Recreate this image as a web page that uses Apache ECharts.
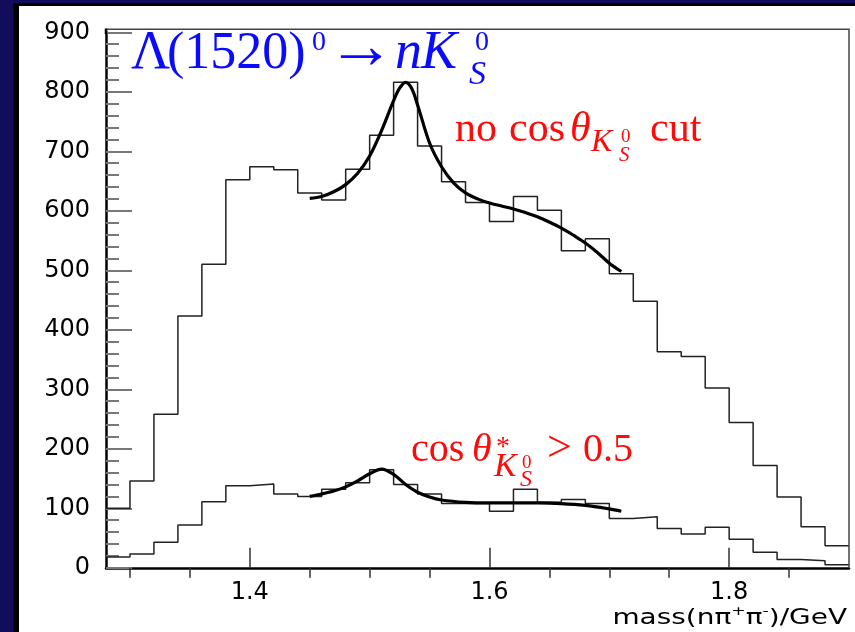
<!DOCTYPE html>
<html>
<head>
<meta charset="utf-8">
<title>Λ(1520)⁰ → nK⁰S mass spectrum</title>
<script src="https://cdn.jsdelivr.net/npm/echarts@6/dist/echarts.min.js"></script>
<style>
  html, body { margin: 0; padding: 0; background: #110d5c; }
  #chart { width: 855px; height: 632px; }
</style>
</head>
<body>
<div id="chart"></div>
<script>
// Bin edges of the n pi+ pi- invariant mass histograms (GeV), 0.02 GeV bins
const binEdges = [1.28, 1.30, 1.32, 1.34, 1.36, 1.38, 1.40, 1.42, 1.44, 1.46, 1.48,
                  1.50, 1.52, 1.54, 1.56, 1.58, 1.60, 1.62, 1.64, 1.66, 1.68, 1.70,
                  1.72, 1.74, 1.76, 1.78, 1.80, 1.82, 1.84, 1.86, 1.88, 1.90];

// Entries per bin without any cos(theta) cut
const countsNoCut = [100, 146, 258, 423, 510, 652, 674, 669, 630, 618, 670,
                     727, 816, 709, 649, 614, 582, 624, 601, 533, 553, 494,
                     448, 363, 355, 302, 244, 172, 119, 69, 37];

// Entries per bin with cos(theta*) > 0.5
const countsCut = [18, 23, 43, 72, 111, 138, 141, 124, 120, 132, 143,
                   165, 140, 124, 108, 108, 95, 132, 110, 115, 108, 83,
                   86, 66, 57, 68, 48, 26, 14, 12, 5];

// Fitted curve (signal + background), no cut
const fitNoCutX = [1.45, 1.46, 1.47, 1.48, 1.49, 1.50, 1.51, 1.52, 1.525, 1.53, 1.535,
                   1.54, 1.55, 1.56, 1.57, 1.58, 1.59, 1.60, 1.61, 1.62, 1.63, 1.64,
                   1.65, 1.66, 1.67, 1.68, 1.69, 1.70, 1.71];
const fitNoCutY = [621, 624, 632, 644, 663, 692, 735, 785, 806, 816, 806,
                   778, 714, 674, 647, 630, 620, 613, 608, 603, 597, 590,
                   581, 571, 559, 546, 530, 512, 498];

// Fitted curve, cos(theta*) > 0.5
const fitCutX = [1.45, 1.46, 1.47, 1.48, 1.49, 1.50, 1.51, 1.52, 1.53, 1.54, 1.55,
                 1.56, 1.58, 1.60, 1.62, 1.64, 1.66, 1.68, 1.70, 1.71];
const fitCutY = [120, 124, 129, 136, 146, 158, 166, 157, 140, 127, 119,
                 114, 110, 109, 109, 109, 108, 105, 99, 95];

// Axis ticks
const xMajorTicks = [1.4, 1.6, 1.8];
const xMinorTicks = [1.3, 1.35, 1.45, 1.5, 1.55, 1.65, 1.7, 1.75, 1.85];

function histData(counts) {
  const d = counts.map((c, i) => [binEdges[i], c]);
  d.push([binEdges[binEdges.length - 1], counts[counts.length - 1]]);
  return d;
}
function curveData(xs, ys) {
  return xs.map((x, i) => [x, ys[i]]);
}

const SERIF = '"Liberation Serif", "DejaVu Serif", serif';
const SANS = '"DejaVu Sans", "Liberation Sans", sans-serif';

// text piece placed by its left edge and alphabetic baseline
function piece(str, left, baseline, size, color, italic) {
  return {
    type: 'text',
    x: left,
    y: baseline - 0.34 * size,
    z: 100,
    style: {
      text: str,
      fontSize: size,
      fontFamily: SERIF,
      fontStyle: italic ? 'italic' : 'normal',
      fill: color,
      align: 'left',
      verticalAlign: 'middle'
    }
  };
}

const BLUE = '#0a0aff';
const RED = '#ff0a0a';

const labels = [
  // Λ(1520)^0 → n K_S^0
  piece('Λ', 131, 72, 54, BLUE, false),
  piece('(1520)', 167, 72, 52, BLUE, false),
  piece('0', 312, 52, 28, BLUE, false),
  piece('→', 327, 73, 68, BLUE, false),
  piece('n', 395, 72, 54, BLUE, true),
  piece('K', 421, 72, 54, BLUE, true),
  piece('0', 475, 52, 28, BLUE, false),
  piece('S', 469, 87, 34, BLUE, true),

  // no cos θ_{K_S^0} cut
  piece('no', 455, 144, 42, RED, false),
  piece('cos', 509, 144, 42, RED, false),
  piece('θ', 570, 144, 42, RED, true),
  piece('K', 591, 153, 32, RED, true),
  piece('0', 621, 143, 19, RED, false),
  piece('S', 619, 163, 21, RED, true),
  piece('cut', 650, 144, 42, RED, false),

  // cos θ*_{K_S^0} > 0.5
  piece('cos', 411, 464, 40, RED, false),
  piece('θ', 472, 464, 40, RED, true),
  piece('*', 496, 457, 28, RED, false),
  piece('K', 494, 479, 34, RED, true),
  piece('0', 522, 469, 19, RED, false),
  piece('S', 520, 488, 24, RED, true),
  piece('>', 547, 464, 44, RED, false),
  piece('0.5', 583, 464, 40, RED, false),

  // x axis title
  {
    type: 'text',
    x: 847,
    y: 617,
    z: 100,
    scaleX: 1.33,
    style: {
      text: '{a|mass(nπ}{s|+}{a|π}{s|-}{a|)/GeV}',
      align: 'right',
      verticalAlign: 'middle',
      fill: '#000',
      rich: {
        a: { fontSize: 21, fontFamily: SANS, fill: '#000', verticalAlign: 'bottom' },
        s: { fontSize: 13, fontFamily: SANS, fill: '#000', verticalAlign: 'top',
             padding: [0, 0, 11, 0] }
      }
    }
  }
];

// frame of the plotting area above the top y tick and on the right
const frame = [
  { type: 'polyline', z: 50, shape: { points: [[106, 29.3], [849, 29.3], [849, 568]] },
    style: { stroke: '#444', lineWidth: 1.5, fill: null } },
  { type: 'line', z: 50, shape: { x1: 106, y1: 28.5, x2: 106, y2: 34 },
    style: { stroke: '#000', lineWidth: 2.5 } }
];

const chart = echarts.init(document.getElementById('chart'), null, { renderer: 'canvas' });

const option = {
  animation: false,
  backgroundColor: '#110d5c',
  graphic: [
    { type: 'rect', z: -10, shape: { x: 13.5, y: 3, width: 900, height: 700 }, style: { fill: '#000' } },
    { type: 'rect', z: -9, shape: { x: 19, y: 6, width: 900, height: 700 }, style: { fill: '#fff' } }
  ].concat(frame, labels),
  grid: {
    left: 106, right: 6, top: 32.3, bottom: 64.2, show: false
  },
  xAxis: [
    {
      type: 'value', min: 1.28, max: 1.9,
      axisLine: { show: true, onZero: false, lineStyle: { color: '#000', width: 2.5 } },
      axisTick: { show: true, inside: true, length: 20, customValues: xMajorTicks,
                  lineStyle: { color: '#333', width: 1.5 } },
      axisLabel: { show: true, customValues: xMajorTicks, margin: 13,
                   fontSize: 24, fontFamily: SANS, color: '#000',
                   formatter: v => v.toFixed(1) },
      splitLine: { show: false }
    },
    {
      type: 'value', min: 1.28, max: 1.9,
      axisLine: { show: false },
      axisTick: { show: true, inside: true, length: 10, customValues: xMinorTicks,
                  lineStyle: { color: '#333', width: 1.5 } },
      axisLabel: { show: false },
      splitLine: { show: false }
    }
  ],
  yAxis: {
    type: 'value', min: 0, max: 900, interval: 100,
    axisLine: { show: true, lineStyle: { color: '#000', width: 2.5 } },
    axisTick: { show: true, inside: true, length: 26, lineStyle: { color: '#777', width: 2 } },
    minorTick: { show: true, splitNumber: 5, length: 13, lineStyle: { color: '#777', width: 2 } },
    axisLabel: { fontSize: 24, fontFamily: SANS, color: '#000', margin: 16 },
    splitLine: { show: false }
  },
  series: [
    {
      name: 'no cut', type: 'line', step: 'end', xAxisIndex: 0, clip: false,
      data: histData(countsNoCut), showSymbol: false, symbol: 'none',
      lineStyle: { color: '#222', width: 1.5 }, z: 3
    },
    {
      name: 'cos cut', type: 'line', step: 'end', xAxisIndex: 0,
      data: histData(countsCut), showSymbol: false, symbol: 'none',
      lineStyle: { color: '#222', width: 1.5 }, z: 3
    },
    {
      name: 'fit no cut', type: 'line', xAxisIndex: 0, smooth: 0.35,
      data: curveData(fitNoCutX, fitNoCutY), showSymbol: false, symbol: 'none',
      lineStyle: { color: '#000', width: 3.2 }, z: 4
    },
    {
      name: 'fit cut', type: 'line', xAxisIndex: 0, smooth: 0.35,
      data: curveData(fitCutX, fitCutY), showSymbol: false, symbol: 'none',
      lineStyle: { color: '#000', width: 3.2 }, z: 4
    }
  ]
};

chart.setOption(option);
</script>
</body>
</html>
